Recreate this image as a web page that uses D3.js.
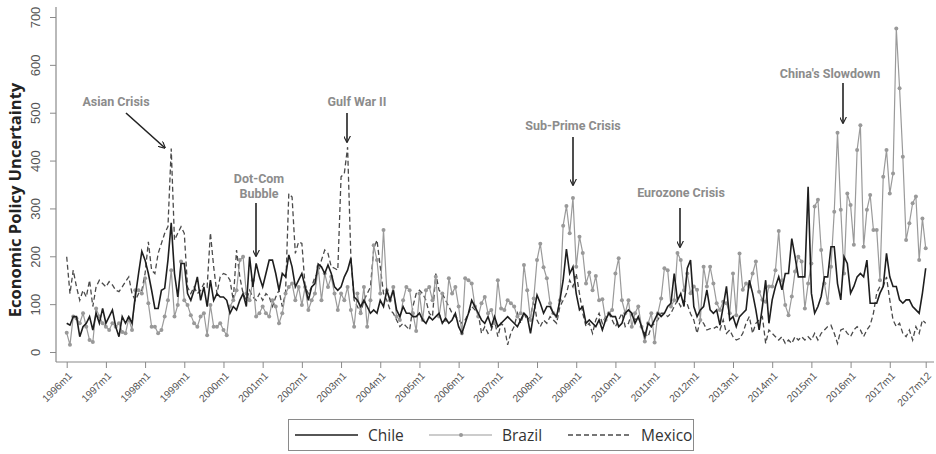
<!DOCTYPE html>
<html>
<head>
<meta charset="utf-8">
<script src="https://cdn.jsdelivr.net/npm/d3@7"></script>
<style>
  body { margin: 0; background: #fff; }
  svg { display: block; }
</style>
</head>
<body>
<div id="chart"></div>
<script>
// Monthly EPU, 1996m1 .. 2017m12 (one row per year)
const chile = [
  60, 56, 74, 74, 32, 53, 60, 74, 46, 81, 60, 91,
  60, 74, 88, 53, 32, 74, 60, 74, 60, 115, 164, 210,
  192, 164, 129, 91, 91, 129, 133, 192, 270, 164, 115, 185,
  185, 122, 108, 129, 157, 108, 136, 95, 150, 108, 122, 115,
  115, 108, 81, 95, 88, 108, 122, 95, 199, 136, 185, 157,
  136, 164, 192, 192, 164, 129, 164, 157, 203, 178, 136, 150,
  164, 136, 108, 136, 143, 184, 178, 164, 182, 164, 136, 129,
  136, 157, 171, 196, 115, 108, 95, 108, 95, 81, 88, 81,
  108, 95, 129, 108, 129, 88, 74, 95, 81, 81, 74, 74,
  81, 67, 60, 74, 67, 74, 81, 60, 70, 60, 67, 81,
  53, 39, 60, 81, 108, 95, 81, 67, 60, 74, 53, 74,
  53, 60, 67, 74, 67, 60, 53, 67, 81, 74, 39, 81,
  119, 102, 81, 95, 95, 81, 74, 108, 150, 215, 164, 178,
  122, 88, 95, 60, 67, 60, 53, 67, 46, 67, 81, 74,
  74, 53, 60, 81, 88, 81, 60, 74, 53, 32, 60, 53,
  67, 81, 74, 81, 95, 102, 164, 108, 122, 95, 175, 192,
  95, 74, 88, 95, 130, 88, 81, 88, 56, 95, 137, 67,
  74, 53, 74, 81, 88, 150, 123, 88, 46, 95, 150, 60,
  109, 137, 157, 130, 164, 164, 237, 199, 157, 157, 157, 345,
  123, 81, 95, 116, 157, 157, 220, 220, 143, 109, 199, 185,
  123, 137, 157, 164, 157, 192, 102, 102, 102, 123, 137, 206,
  157, 137, 137, 109, 102, 109, 109, 95, 88, 81, 123, 175
];
const brazil = [
  40, 15, 74, 70, 60, 81, 53, 25, 21, 91, 74, 60,
  53, 46, 60, 53, 60, 42, 39, 70, 46, 129, 129, 122,
  154, 102, 53, 53, 39, 46, 74, 108, 171, 74, 98, 189,
  108, 98, 77, 60, 53, 74, 81, 35, 98, 53, 53, 60,
  46, 35, 95, 108, 129, 192, 199, 122, 108, 150, 74, 81,
  95, 81, 74, 108, 95, 60, 81, 122, 136, 143, 108, 136,
  98, 136, 88, 108, 122, 178, 108, 164, 136, 157, 122, 88,
  122, 108, 136, 88, 53, 122, 81, 136, 53, 108, 223, 192,
  122, 255, 129, 108, 136, 74, 67, 108, 136, 129, 81, 44,
  122, 67, 129, 136, 108, 157, 74, 122, 67, 154, 122, 136,
  95, 39, 154, 150, 143, 95, 74, 102, 115, 81, 88, 60,
  150, 91, 88, 108, 102, 95, 74, 81, 182, 129, 67, 112,
  192, 226, 177, 154, 102, 81, 74, 108, 264, 305, 248, 322,
  178, 241, 207, 143, 166, 129, 159, 108, 110, 67, 81, 88,
  164, 196, 108, 81, 108, 53, 81, 95, 53, 22, 60, 81,
  20, 81, 112, 175, 171, 95, 108, 207, 192, 129, 164, 123,
  137, 130, 67, 178, 137, 178, 143, 102, 88, 105, 102, 81,
  164, 77, 206, 130, 143, 137, 164, 189, 126, 109, 105, 137,
  137, 171, 253, 150, 98, 77, 116, 168, 199, 189, 91, 143,
  185, 304, 318, 213, 143, 102, 178, 293, 458, 297, 164, 331,
  307, 224, 422, 474, 220, 297, 328, 255, 255, 150, 366, 422,
  331, 373, 676, 551, 408, 234, 269, 311, 325, 192, 279, 217
];
const mexico = [
  199, 122, 171, 136, 108, 129, 115, 150, 95, 136, 150, 143,
  136, 147, 140, 129, 126, 136, 147, 157, 122, 108, 122, 129,
  164, 230, 171, 164, 206, 227, 248, 262, 425, 234, 248, 262,
  248, 136, 122, 136, 122, 129, 143, 136, 249, 178, 122, 157,
  164, 161, 150, 108, 213, 157, 122, 108, 129, 115, 108, 122,
  108, 122, 115, 95, 115, 129, 95, 122, 331, 324, 206, 230,
  227, 136, 122, 136, 157, 164, 192, 213, 206, 178, 175, 171,
  366, 373, 428, 199, 108, 95, 81, 108, 122, 136, 216, 234,
  178, 122, 108, 88, 81, 67, 53, 60, 53, 46, 95, 122,
  129, 122, 108, 81, 74, 164, 129, 122, 108, 95, 81, 74,
  67, 60, 67, 81, 95, 88, 81, 39, 53, 39, 46, 67,
  32, 60, 53, 15, 40, 53, 81, 60, 81, 67, 74, 108,
  67, 53, 67, 60, 74, 67, 60, 95, 108, 122, 150, 136,
  164, 122, 81, 53, 60, 39, 67, 81, 60, 74, 81, 67,
  53, 67, 81, 53, 60, 81, 67, 74, 53, 39, 32, 53,
  60, 67, 81, 81, 74, 81, 95, 108, 95, 108, 100, 80,
  67, 39, 67, 60, 46, 49, 49, 53, 46, 67, 39, 46,
  32, 25, 28, 39, 60, 74, 39, 60, 67, 74, 18, 46,
  39, 32, 25, 32, 18, 25, 18, 32, 25, 32, 25, 32,
  25, 39, 25, 39, 46, 53, 56, 39, 18, 46, 49, 39,
  32, 46, 53, 46, 32, 46, 56, 81, 123, 137, 137, 157,
  109, 67, 53, 60, 39, 32, 46, 25, 53, 39, 67, 60
];
const xTickLabels = ["1996m1", "1997m1", "1998m1", "1999m1", "2000m1", "2001m1", "2002m1",
  "2003m1", "2004m1", "2005m1", "2006m1", "2007m1", "2008m1", "2009m1", "2010m1",
  "2011m1", "2012m1", "2013m1", "2014m1", "2015m1", "2016m1", "2017m1", "2017m12"];
const yTicks = [0, 100, 200, 300, 400, 500, 600, 700];
const events = [
  { label: ["Asian Crisis"], tx: 116, ty: 106, from: [126, 113], to: [165, 148] },
  { label: ["Dot-Com", "Bubble"], tx: 259, ty: 183, from: [256, 203], to: [256, 256] },
  { label: ["Gulf War II"], tx: 357, ty: 106, from: [347, 113], to: [347, 142] },
  { label: ["Sub-Prime Crisis"], tx: 573, ty: 130, from: [573, 137], to: [573, 185] },
  { label: ["Eurozone Crisis"], tx: 681, ty: 197, from: [680, 208], to: [680, 247] },
  { label: ["China's Slowdown"], tx: 830, ty: 78, from: [843, 83], to: [843, 123] }
];

// month index -> label, e.g. 0 -> 1996m1
const monthLabel = i => `${1996 + Math.floor(i / 12)}m${(i % 12) + 1}`;
const months = d3.range(chile.length).map(monthLabel);

const width = 936, height = 454;
const svg = d3.select("#chart").append("svg")
    .attr("width", width)
    .attr("height", height)
    .attr("font-family", "'Open Sans', 'Noto Sans', sans-serif");

const x = d3.scalePoint().domain(months).range([66.7, 925.7]);
const y = d3.scaleLinear().domain([0, 700]).range([352, 17]);

svg.append("defs").append("marker")
    .attr("id", "arrow")
    .attr("viewBox", "0 0 10 10")
    .attr("refX", 9).attr("refY", 5)
    .attr("markerWidth", 7).attr("markerHeight", 7)
    .attr("markerUnits", "userSpaceOnUse")
    .attr("orient", "auto")
    .append("path")
    .attr("d", "M0,0 L10,5 L0,10")
    .attr("fill", "none")
    .attr("stroke", "#222")
    .attr("stroke-width", 1.6);

// axes
const axisColor = "#8a8a8a";
const yAxis = svg.append("g")
    .attr("transform", "translate(56,0)")
    .call(d3.axisLeft(y).tickValues(yTicks).tickSize(6).tickPadding(5));
yAxis.select(".domain").remove();
yAxis.selectAll(".tick line").attr("stroke", axisColor);
yAxis.selectAll(".tick text")
    .attr("transform", "rotate(-90)")
    .attr("x", 0).attr("y", -16)
    .attr("dy", "0")
    .attr("text-anchor", "middle")
    .attr("font-size", 13)
    .attr("fill", "#555");
svg.append("line").attr("x1", 56).attr("x2", 56).attr("y1", 7).attr("y2", 362)
    .attr("stroke", axisColor).attr("stroke-width", 1.2);

const xAxis = svg.append("g")
    .attr("transform", "translate(0,362)")
    .call(d3.axisBottom(x).tickValues(xTickLabels).tickSize(6).tickPadding(3));
xAxis.select(".domain").remove();
xAxis.selectAll(".tick line").attr("stroke", axisColor);
xAxis.selectAll(".tick text")
    .attr("x", 0).attr("y", 0)
    .attr("dy", "0.35em")
    .attr("text-anchor", "end")
    .attr("font-size", 10.3)
    .attr("fill", "#555")
    .attr("transform", "translate(3,12) rotate(-45)");
svg.append("line").attr("x1", 56).attr("x2", 934).attr("y1", 362).attr("y2", 362)
    .attr("stroke", axisColor).attr("stroke-width", 1.2);

svg.append("text")
    .attr("transform", "translate(21,200) rotate(-90)")
    .attr("text-anchor", "middle")
    .attr("font-size", 16.5)
    .attr("font-weight", "bold")
    .attr("fill", "#222")
    .text("Economic Policy Uncertainty");

// series
const line = d3.line().x((d, i) => x(months[i])).y(d => y(d));

svg.append("path").datum(mexico)
    .attr("d", line).attr("fill", "none")
    .attr("stroke", "#4a4a4a").attr("stroke-width", 1.3)
    .attr("stroke-dasharray", "5,3");

svg.append("path").datum(brazil)
    .attr("d", line).attr("fill", "none")
    .attr("stroke", "#9a9a9a").attr("stroke-width", 1.2);
svg.append("g").selectAll("circle")
    .data(brazil)
    .join("circle")
    .attr("cx", (d, i) => x(months[i]))
    .attr("cy", d => y(d))
    .attr("r", 2)
    .attr("fill", "#999");

svg.append("path").datum(chile)
    .attr("d", line).attr("fill", "none")
    .attr("stroke", "#1e1e1e").attr("stroke-width", 1.6);

// event annotations (one text per line)
const ev = svg.append("g");
events.forEach(e => {
    e.label.forEach((s, k) => {
        ev.append("text")
            .attr("x", e.tx).attr("y", e.ty + k * 15)
            .attr("text-anchor", "middle")
            .attr("font-family", "Roboto, 'Open Sans', sans-serif")
            .attr("font-size", 12.5)
            .attr("font-weight", "bold")
            .attr("fill", "#8c8c8c")
            .text(s);
    });
    ev.append("line")
        .attr("x1", e.from[0]).attr("y1", e.from[1])
        .attr("x2", e.to[0]).attr("y2", e.to[1])
        .attr("stroke", "#222").attr("stroke-width", 1.6)
        .attr("marker-end", "url(#arrow)");
});

// legend
const legend = svg.append("g");
legend.append("rect")
    .attr("x", 288.5).attr("y", 419.5).attr("width", 405).attr("height", 31)
    .attr("fill", "#fff").attr("stroke", "#8a8a8a");
const items = [
    { name: "Chile", x0: 295, color: "#1e1e1e", w: 1.6, dash: null, dot: false },
    { name: "Brazil", x0: 429, color: "#9a9a9a", w: 1.2, dash: null, dot: true },
    { name: "Mexico", x0: 568, color: "#4a4a4a", w: 1.3, dash: "5,3", dot: false }
];
items.forEach(it => {
    legend.append("line")
        .attr("x1", it.x0).attr("x2", it.x0 + 63)
        .attr("y1", 435).attr("y2", 435)
        .attr("stroke", it.color).attr("stroke-width", it.w)
        .attr("stroke-dasharray", it.dash);
    if (it.dot) {
        legend.append("circle").attr("cx", it.x0 + 32).attr("cy", 435).attr("r", 2).attr("fill", "#999");
    }
    legend.append("text")
        .attr("x", it.x0 + 73).attr("y", 441)
        .attr("font-size", 15.5)
        .attr("fill", "#333")
        .text(it.name);
});
</script>
</body>
</html>
